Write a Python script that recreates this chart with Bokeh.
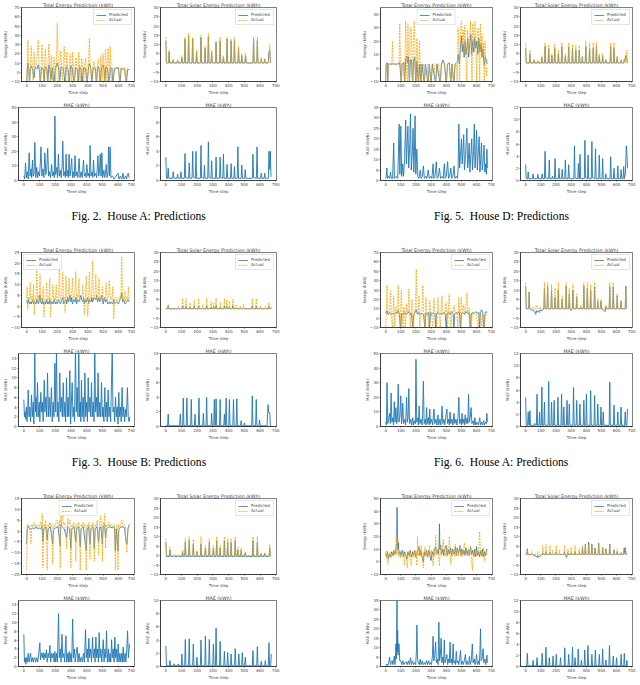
from bokeh.embed import file_html
from bokeh.resources import INLINE
from bokeh.layouts import column, row
from bokeh.models import Label, Legend, LegendItem, Range1d, SingleIntervalTicker
from bokeh.plotting import figure

BLUE = "#1f77b4"
ORANGE = "orange"
FONT = "DejaVu Sans"

# ---- Fig. 2, House A -------------------------------------------------------
g1_tot_act = [(0,-12),(4,5),(8,35),(13,4),(18,-12),(24,6),(30,28),(36,5),(42,-12),(48,22),(54,4),(62,8),(68,14),(75,35),(82,6),(89,-12),(95,8),(100,30),(106,5),(112,-12),(118,10),(122,25),(128,4),(135,-12),(140,12),(145,31),(150,5),(155,-12),(160,18),(166,4),(172,-12),(178,16),(184,6),(190,-12),(195,20),(200,53),(206,8),(212,-12),(218,10),(222,23),(228,5),(234,-12),(240,12),(245,28),(250,6),(256,-12),(262,22),(268,4),(275,-12),(280,10),(285,20),(290,5),(295,-12),(300,22),(306,5),(312,-12),(318,8),(323,16),(328,4),(334,-12),(340,22),(346,5),(352,-12),(360,15),(366,4),(372,-12),(380,8),(385,15),(390,4),(397,-12),(404,10),(410,37),(416,4),(424,-12),(432,5),(440,12),(446,4),(455,-12),(462,6),(468,14),(474,4),(479,-12),(485,18),(490,6),(494,-12),(500,20),(505,6),(509,-12),(515,25),(520,7),(526,-12),(532,26),(538,6),(541,-12),(546,28),(551,4),(558,-12),(565,5),(572,4),(590,5),(600,3),(608,-12),(615,5),(630,4),(640,5),(650,-12),(656,4),(664,3)]
g1_tot_pred = [(0,-12),(4,4),(8,10),(14,3),(18,-12),(24,4),(30,7),(40,2),(48,-6),(55,5),(70,4),(75,8),(82,3),(89,-12),(96,5),(110,3),(114,-12),(120,6),(133,3),(138,-12),(145,8),(153,3),(158,-8),(168,5),(178,-12),(188,4),(200,10),(210,4),(215,-12),(225,6),(240,4),(250,-12),(258,6),(270,3),(278,-12),(288,7),(298,4),(310,-12),(320,5),(333,3),(338,-12),(345,6),(355,4),(362,-12),(372,5),(385,4),(395,-12),(405,6),(412,9),(420,3),(426,-12),(435,5),(450,4),(456,-12),(465,6),(474,4),(480,-12),(490,5),(500,8),(506,3),(510,-12),(518,6),(528,4),(540,-12),(548,5),(558,4),(563,-12),(575,4),(600,5),(610,-12),(618,4),(640,3),(652,-12),(660,3),(670,3)]
g1_tot_mae = [(0,3),(5,1),(11,12),(16,2),(22,6),(28,1),(34,19),(40,3),(46,8),(50,2),(55,14),(60,3),(65,5),(70,26),(76,2),(82,9),(88,2),(94,6),(100,3),(105,12),(109,23),(115,3),(122,8),(128,2),(134,19),(140,4),(146,8),(152,22),(158,3),(164,6),(170,2),(177,11),(183,3),(190,6),(194,2),(198,44),(203,4),(210,9),(215,2),(220,18),(226,3),(232,7),(238,2),(244,10),(248,27),(254,3),(260,6),(265,2),(269,18),(274,3),(280,7),(284,2),(288,18),(294,3),(300,8),(305,15),(310,2),(316,6),(321,2),(326,17),(332,3),(338,6),(344,2),(352,15),(358,2),(365,6),(372,2),(380,14),(386,3),(393,5),(397,2),(401,11),(408,3),(415,5),(418,2),(422,24),(428,3),(435,6),(440,2),(444,14),(450,3),(458,5),(464,2),(472,17),(477,3),(482,6),(487,18),(492,3),(497,19),(502,2),(510,7),(515,2),(520,5),(525,11),(530,2),(536,6),(540,23),(545,3),(550,23),(555,2),(565,3),(575,1),(588,3),(600,5),(606,1),(615,3),(625,1),(632,5),(638,1),(648,3),(655,1),(660,4),(665,5),(670,2)]
g1_sol_act = [(0,14),(4,0),(17,0),(21,7),(25,0),(43,0),(47,2),(51,0),(71,0),(75,2),(79,0),(98,0),(102,4),(106,0),(118,0),(122,14),(126,0),(141,0),(145,16),(149,0),(167,0),(171,14),(175,0),(192,0),(196,7),(200,0),(220,0),(224,15),(228,0),(246,0),(250,9),(254,0),(267,0),(271,16),(275,0),(288,0),(292,7),(296,0),(316,0),(320,12),(324,0),(342,0),(346,14),(350,0),(363,0),(367,4),(371,0),(386,0),(390,14),(394,0),(412,0),(416,13),(420,0),(433,0),(437,14),(441,0),(459,0),(463,9),(467,0),(480,0),(484,5),(488,0),(504,0),(508,5.5),(512,0),(555,0),(559,14),(563,0),(579,0),(583,14),(587,0),(604,0),(608,3),(612,0),(626,0),(630,2.5),(634,0),(656,0),(662,10),(668,0)]
g1_sol_pred = [(0,12),(4,0),(17,0),(21,6),(25,0),(43,0),(47,1.5),(51,0),(71,0),(75,1.5),(79,0),(98,0),(102,3),(106,0),(118,0),(122,13),(126,0),(141,0),(145,15),(149,0),(167,0),(171,13),(175,0),(192,0),(196,6),(200,0),(220,0),(224,14),(228,0),(246,0),(250,8),(254,0),(267,0),(271,14),(275,0),(288,0),(292,6),(296,0),(316,0),(320,11),(324,0),(342,0),(346,12),(350,0),(363,0),(367,3),(371,0),(386,0),(390,13),(394,0),(412,0),(416,12),(420,0),(433,0),(437,12),(441,0),(459,0),(463,8),(467,0),(480,0),(484,4),(488,0),(504,0),(508,4),(512,0),(555,0),(559,13),(563,0),(579,0),(583,12),(587,0),(604,0),(608,2),(612,0),(626,0),(630,2),(634,0),(652,0),(657,6),(662,7),(668,0)]
g1_sol_mae = [(0,3.2),(4,0.3),(11,0.3),(15,1.7),(19,0.3),(43,0.3),(47,1.2),(51,0.3),(71,0.3),(75,0.9),(79,0.3),(92,0.3),(96,1.2),(100,0.3),(118,0.3),(122,3.7),(126,0.4),(145,0.3),(149,2.4),(153,0.3),(167,0.3),(171,4),(175,0.5),(188,0.3),(192,4),(196,0.3),(220,0.3),(224,4.8),(228,0.4),(242,0.3),(246,2.1),(250,0.3),(267,0.3),(271,5.3),(275,0.4),(288,0.3),(292,2.7),(296,0.3),(316,0.3),(320,3.2),(324,0.3),(342,0.3),(346,3.2),(350,0.4),(363,0.3),(367,3.6),(371,0.3),(386,0.3),(390,2.2),(394,0.3),(412,0.3),(416,2.3),(420,0.3),(433,0.3),(437,1.9),(441,0.3),(455,0.3),(459,4.6),(463,0.3),(480,0.3),(484,2.1),(488,0.3),(502,0.3),(506,1.5),(510,0.3),(551,0.3),(555,3.6),(559,0.4),(577,0.3),(581,4.6),(585,0.3),(604,0.3),(608,1),(612,0.3),(626,0.3),(630,1),(634,0.3),(653,0.3),(657,4),(662,1.5),(666,4),(670,0.5)]

# ---- Fig. 5, House D -------------------------------------------------------
g2_tot_act = [(0,-12),(3,3),(10,3),(14,-12),(18,3),(30,3),(40,2),(45,20),(50,3),(60,3),(70,2),(80,3),(88,2),(93,33),(98,3),(103,-12),(108,3),(118,3),(125,-12),(132,35),(137,8),(142,-12),(147,33),(152,10),(157,-12),(162,26),(168,30),(173,8),(178,-12),(183,22),(189,35),(194,6),(199,-12),(206,22),(211,5),(216,-12),(223,20),(228,3),(233,-12),(240,3),(250,3),(255,-12),(262,3),(275,3),(280,-12),(288,3),(300,-12),(308,3),(320,3),(330,-12),(338,3),(350,3),(360,-12),(368,3),(378,3),(388,3),(400,-12),(408,3),(420,3),(430,-12),(438,3),(450,-12),(458,3),(468,3),(472,-12),(478,30),(483,15),(488,-12),(493,25),(500,35),(506,18),(512,28),(518,10),(522,32),(528,15),(535,-12),(540,28),(546,12),(552,20),(560,35),(565,12),(570,-12),(575,33),(580,15),(586,22),(590,35),(596,10),(600,-12),(605,25),(610,30),(616,12),(621,-12),(625,33),(630,14),(636,25),(641,8),(646,18),(650,-12),(655,20),(660,5),(665,-6),(668,0)]
g2_tot_pred = [(0,-12),(3,3),(10,4),(14,-12),(18,3),(30,3),(45,3),(60,3),(80,3),(93,4),(103,-12),(108,3),(120,4),(125,-12),(132,7),(140,9),(145,4),(150,8),(157,-12),(163,6),(170,6),(178,-12),(185,6),(192,8),(199,-12),(206,5),(216,-12),(225,3),(233,-12),(240,3),(255,-12),(262,3),(280,-12),(288,3),(300,-12),(308,3),(330,-12),(338,3),(360,-12),(368,3),(378,6),(388,3),(400,-12),(408,3),(420,4),(430,-12),(438,3),(450,-12),(458,3),(468,4),(475,5),(480,10),(486,3),(493,15),(500,24),(506,12),(512,18),(518,8),(524,20),(530,10),(536,15),(542,22),(548,8),(555,18),(562,25),(568,10),(575,20),(582,12),(588,22),(595,15),(602,20),(608,10),(615,22),(622,12),(630,18),(636,8),(642,14),(650,2),(658,8),(664,6),(670,3)]
g2_tot_mae = [(0,1),(4,2),(8,6),(12,1),(20,2),(26,1),(32,4),(38,1),(46,1),(53,18),(58,1),(70,2),(80,1),(89,27),(94,3),(100,26),(106,2),(112,8),(118,2),(125,10),(132,29),(137,8),(142,18),(147,26),(152,6),(158,15),(164,32),(169,5),(175,12),(181,25),(186,4),(190,14),(194,31),(199,3),(206,15),(212,2),(220,1),(228,5),(234,1),(242,2),(249,7),(255,1),(265,2),(272,1),(281,5),(288,1),(298,2),(305,1),(313,8),(318,1),(326,2),(334,9),(340,1),(348,2),(355,6),(362,1),(372,2),(380,1),(387,8),(393,1),(400,2),(409,9),(415,1),(422,2),(430,6),(436,1),(444,2),(451,7),(457,1),(466,2),(474,1),(478,5),(483,27),(488,6),(494,12),(500,20),(505,8),(510,14),(515,22),(520,5),(527,12),(536,25),(541,6),(546,10),(551,18),(556,4),(562,12),(568,20),(573,5),(580,14),(585,27),(590,6),(595,14),(600,24),(605,5),(610,12),(617,21),(622,4),(627,10),(632,18),(637,5),(643,9),(649,17),(654,4),(660,8),(665,3),(668,15),(671,6)]
g2_sol_act = [(0,11),(4,0),(24,0),(28,7),(32,0),(51,0),(55,2),(59,0),(77,0),(81,1.5),(85,0),(103,0),(107,4),(111,0),(124,0),(128,11),(132,0),(148,0),(152,10),(156,0),(169,0),(173,5),(177,0),(188,0),(192,10),(196,0),(212,0),(216,7),(220,0),(235,0),(239,11),(243,0),(258,0),(262,5),(266,0),(280,0),(284,11),(288,0),(305,0),(309,10),(313,0),(327,0),(331,9.5),(335,0),(350,0),(354,9.5),(358,0),(370,0),(374,4),(378,0),(393,0),(397,12),(401,0),(418,0),(422,11),(426,0),(442,0),(446,11),(450,0),(463,0),(467,11),(471,0),(482,0),(486,5),(490,0),(504,0),(508,5),(512,0),(525,0),(529,2),(533,0),(557,0),(561,11),(565,0),(579,0),(583,11),(587,0),(600,0),(604,4),(608,0),(626,0),(630,2),(634,0),(647,0),(651,2.5),(655,0),(662,0),(668,7),(671,0)]
g2_sol_pred = [(0,8),(4,0),(24,0),(28,5),(32,0),(51,0),(55,1.5),(59,0),(77,0),(81,1),(85,0),(103,0),(107,3),(111,0),(124,0),(128,9),(132,0),(148,0),(152,8),(156,0),(169,0),(173,4),(177,0),(188,0),(192,8),(196,0),(212,0),(216,5),(220,0),(235,0),(239,9),(243,0),(258,0),(262,4),(266,0),(280,0),(284,9),(288,0),(305,0),(309,8),(313,0),(327,0),(331,7),(335,0),(350,0),(354,7),(358,0),(370,0),(374,3),(378,0),(393,0),(397,9),(401,0),(418,0),(422,8),(426,0),(442,0),(446,8),(450,0),(463,0),(467,9),(471,0),(482,0),(486,4),(490,0),(504,0),(508,4),(512,0),(525,0),(529,1.5),(533,0),(557,0),(561,9),(565,0),(579,0),(583,8),(587,0),(600,0),(604,3),(608,0),(626,0),(630,1.5),(634,0),(647,0),(651,2),(655,1),(660,4),(666,3),(671,0)]
g2_sol_mae = [(0,2.6),(4,0.3),(13,0.3),(17,1.4),(21,0.3),(45,0.3),(49,1.1),(53,0.3),(77,0.3),(81,1),(85,0.3),(105,0.3),(109,1.1),(113,0.3),(124,0.3),(128,4.8),(132,0.4),(152,0.3),(156,3.4),(160,0.3),(173,0.3),(177,0.7),(181,0.3),(190,0.3),(194,3.6),(198,0.3),(216,0.3),(220,2),(224,0.3),(237,0.3),(241,1.8),(245,0.3),(258,0.3),(262,3.4),(266,0.3),(280,0.3),(284,2.6),(288,0.3),(318,0.3),(322,5.7),(326,0.4),(344,0.3),(348,2.8),(352,0.3),(355,0.3),(359,4.3),(363,0.3),(387,0.3),(391,6.6),(395,0.5),(408,0.3),(412,4.2),(416,0.3),(433,0.3),(437,6.4),(441,0.5),(457,0.3),(461,5.2),(465,0.3),(482,0.3),(486,4.2),(490,0.3),(504,0.3),(508,3.6),(512,0.3),(525,0.3),(529,1.1),(533,0.3),(557,0.3),(561,3.9),(565,0.3),(579,0.3),(583,2),(587,0.3),(604,0.3),(608,2.4),(612,0.3),(626,0.3),(630,1.8),(634,0.3),(643,0.3),(647,2.3),(651,0.3),(658,1),(664,5.7),(668,4.5),(672,2)]

# ---- Fig. 3, House B -------------------------------------------------------
g3_tot_act = [(0,4),(3,9),(7,-1.5),(12,4),(18,3),(23,11),(28,3),(35,5),(40,2),(45,10),(49,-4),(55,4),(61,3),(66,18),(71,3),(77,5),(82,2),(87,15),(92,3),(98,4),(103,2),(108,9),(113,-5),(118,3),(125,4),(130,11),(135,2),(141,4),(146,3),(151,13),(155,-5),(161,3),(167,4),(172,10),(177,2),(183,4),(188,3),(193,10),(198,2),(204,4),(209,5),(214,20),(219,3),(225,4),(230,6),(236,16),(241,3),(246,4),(251,-3),(257,14),(262,4),(268,3),(273,6),(278,13),(283,3),(289,4),(294,6),(299,13),(304,3),(310,4),(316,6),(321,16),(326,3),(332,5),(337,4),(342,13),(347,2),(355,4),(362,5),(367,10),(372,3),(378,-4),(384,4),(389,14),(394,3),(399,-5),(405,4),(410,16),(415,3),(421,4),(426,6),(431,21),(436,4),(442,3),(447,5),(452,15),(457,3),(463,4),(468,5),(473,13),(478,3),(484,4),(490,3),(495,9),(500,2),(507,4),(514,3),(520,11),(525,2),(531,4),(536,5),(541,12),(546,3),(552,4),(558,3),(563,9),(569,-6),(575,3),(582,4),(590,2),(600,4),(610,3),(616,5),(622,23),(627,3),(633,4),(638,2),(643,7),(648,2),(654,4),(660,3),(665,9),(670,3)]
g3_tot_pred = [(0,3),(5,1),(12,3),(18,1),(23,2),(30,1),(38,3),(45,1),(52,2),(60,1),(66,3),(71,2),(77,1),(82,3),(87,5),(92,2),(98,1),(103,3),(108,1),(115,2),(122,1),(130,3),(135,1),(141,2),(146,1),(151,3),(158,1),(165,2),(172,1),(180,3),(188,1),(193,2),(200,1),(209,3),(214,2),(222,1),(230,3),(236,4),(241,1),(250,2),(257,3),(262,1),(268,4),(273,2),(283,5),(289,2),(294,4),(299,1),(308,3),(316,2),(321,4),(326,1),(332,3),(342,2),(350,4),(355,5),(360,3),(367,2),(372,4),(378,1),(384,3),(389,2),(399,4),(405,1),(410,3),(421,2),(426,4),(431,2),(442,4),(452,3),(457,5),(463,2),(473,4),(478,2),(484,3),(490,5),(495,3),(500,1),(507,4),(514,2),(520,3),(531,1),(541,2),(546,1),(552,2),(563,1),(569,3),(575,1),(590,2),(600,1),(610,3),(616,4),(622,6),(627,2),(633,3),(643,1),(654,2),(665,3),(670,2)]
g3_tot_mae = [(0,5.5),(4,2),(8,3),(11,1.5),(16,4),(20,1),(24,3),(28,7.5),(33,2),(38,4),(43,1),(49,6.5),(54,2),(60,5),(64,0.5),(70,16),(74,3),(78,6),(82,2),(87,9),(92,2),(98,5),(102,1),(108,7),(113,3),(118,5),(123,1),(130,9.5),(134,3),(140,6),(145,2),(151,11),(156,2),(162,6),(168,2),(176,8),(181,1),(187,5),(192,2),(198,13),(203,3),(208,16),(213,2),(218,5),(223,1),(229,11),(234,3),(240,6),(245,2),(251,9),(256,2),(262,5),(266,1),(272,10),(277,2),(282,6),(287,2),(293,11.5),(298,0.5),(303,5),(308,9),(313,2),(318,4),(323,1),(329,16),(334,3),(340,8),(345,2),(350,16),(355,2),(360,5),(363,1),(367,9.5),(372,2),(378,6),(383,1),(389,11),(394,2),(400,5),(405,1),(410,10),(415,3),(421,6),(426,2),(431,9),(436,2),(442,5),(447,1),(452,17),(457,3),(463,6),(468,2),(473,11),(478,2),(484,5),(489,2),(495,9),(500,2),(505,4),(510,1),(516,8),(521,2),(527,5),(531,1),(537,7.5),(542,2),(548,4),(553,1),(563,16),(568,3),(574,4),(579,1),(584,6),(590,2),(595,4),(600,0.5),(605,7),(610,2),(616,4),(620,1),(626,8),(631,2),(637,4),(642,1),(648,3.5),(653,2),(660,8),(665,2),(670,1),(675,2)]
g3_sol_act = [(0,0),(11,0),(15,2.3),(19,0),(75,0),(79,1.5),(83,0),(103,0),(107,5.5),(111,0),(124,0),(128,5.5),(132,0),(150,0),(154,3.2),(158,0),(177,0),(181,4.5),(185,0),(205,0),(209,5.5),(213,0),(231,0),(235,2.3),(239,0),(256,0),(260,5.5),(264,0),(284,0),(288,3.8),(292,0),(301,0),(305,3.2),(309,0),(316,0),(320,5.5),(324,0),(344,0),(348,3.2),(352,0),(369,0),(373,5.5),(377,0),(384,0),(388,4.8),(392,0),(401,0),(405,4.1),(409,0),(423,0),(427,5),(431,0),(444,0),(448,2),(452,0),(470,0),(474,1.5),(478,0),(491,0),(495,2.3),(499,0),(547,0),(551,5.5),(555,0),(572,0),(576,5.5),(580,0),(598,0),(602,1.5),(606,0),(630,0),(634,1.5),(638,0),(651,0),(655,3.2),(659,0),(665,0),(668,1),(671,0)]
g3_sol_pred = [(0,0),(11,0),(15,1.5),(19,0),(75,0),(79,0.5),(83,0),(103,0),(107,1.5),(111,0),(124,0),(128,1.5),(132,0),(150,0),(154,1),(158,0),(177,0),(181,1.5),(185,0),(205,0),(209,1.5),(213,0),(231,0),(235,0.5),(239,0),(256,0),(260,1.5),(264,0),(284,0),(288,1),(292,0),(301,0),(305,1),(309,0),(316,0),(320,1.5),(324,0),(344,0),(348,1),(352,0),(369,0),(373,1.5),(377,0),(384,0),(388,1.5),(392,0),(401,0),(405,1),(409,0),(423,0),(427,1.5),(431,0),(444,0),(448,0.5),(452,0),(470,0),(474,0.5),(478,0),(491,0),(495,0.5),(499,0),(547,0),(551,1.5),(555,0),(572,0),(576,1.5),(580,0),(598,0),(602,0.5),(606,0),(630,0),(634,0.5),(638,0),(651,0),(655,1.5),(659,0),(665,0),(668,0.5),(671,0)]
g3_sol_mae = [(0,0.1),(11,0.1),(15,1.7),(19,0.1),(88,0.1),(92,1.7),(96,0.1),(107,0.1),(111,3.9),(115,0.1),(130,0.1),(134,3.9),(138,0.1),(158,0.1),(162,3.7),(166,0.1),(182,0.1),(186,1.7),(190,0.1),(207,0.1),(211,3.9),(215,0.1),(235,0.1),(239,1.8),(243,0.1),(256,0.1),(260,4),(264,0.1),(288,0.1),(292,1.8),(296,0.1),(305,0.1),(309,3.7),(313,0.1),(316,0.1),(320,3.8),(324,0.1),(342,0.1),(346,3.7),(350,0.1),(369,0.1),(373,1.7),(377,0.1),(380,0.1),(384,3.9),(388,0.1),(401,0.1),(405,3.7),(409,0.1),(427,0.1),(431,3.7),(435,0.1),(448,0.1),(452,3.8),(456,0.1),(476,0.1),(480,0.8),(484,0.1),(497,0.1),(501,0.5),(505,0.1),(547,0.1),(551,4.2),(555,0.1),(572,0.1),(576,3.7),(580,0.1),(593,0.1),(597,0.9),(601,0.1),(645,0.1),(651,3),(656,1.9),(662,1.9),(666,0.1),(671,0.1)]

# ---- Fig. 6, House A -------------------------------------------------------
g4_tot_act = [(0,-12),(4,5),(9,35),(14,5),(20,4),(26,8),(32,29),(37,4),(45,-12),(49,5),(53,24),(57,4),(60,-12),(64,5),(68,12),(72,4),(78,8),(83,35),(88,6),(95,-12),(99,6),(104,30),(109,5),(115,-12),(118,5),(121,12),(125,4),(130,-12),(134,6),(138,15),(143,5),(148,8),(153,31),(158,6),(163,-12),(168,6),(174,20),(177,5),(180,-12),(190,6),(196,10),(202,52),(207,8),(212,6),(216,10),(221,24),(225,-12),(232,6),(240,10),(245,35),(250,6),(256,5),(260,-12),(266,22),(271,5),(278,6),(285,-12),(291,19),(296,5),(303,6),(310,-12),(315,8),(319,21),(324,5),(332,6),(338,-12),(345,22),(350,5),(355,6),(360,-12),(366,8),(372,24),(377,5),(385,6),(392,5),(398,17),(403,5),(408,-12),(414,8),(419,26),(424,5),(430,-12),(438,6),(446,8),(451,14),(456,5),(465,6),(470,5),(475,-12),(479,8),(483,22),(487,6),(490,-12),(495,8),(500,22),(505,6),(510,8),(515,14),(520,6),(528,8),(536,27),(541,6),(546,8),(551,11),(555,-12),(560,5),(565,-12),(572,5),(580,4),(589,5),(598,4),(610,-12),(618,4),(628,4),(635,-12),(640,4),(650,-12),(656,4),(664,3),(670,6)]
g4_tot_pred = [(0,5),(9,8),(15,4),(25,6),(35,4),(45,5),(55,4),(65,6),(75,5),(83,8),(90,4),(100,-12),(105,5),(115,4),(125,6),(135,4),(145,5),(153,7),(160,4),(170,5),(180,-12),(185,4),(195,6),(202,9),(210,4),(220,6),(230,4),(240,5),(250,4),(260,-12),(265,5),(275,4),(284,6),(290,-12),(295,5),(305,4),(315,6),(325,4),(330,-12),(335,5),(345,6),(355,4),(365,5),(375,4),(385,6),(393,4),(400,-12),(405,5),(415,6),(425,4),(435,7),(445,5),(450,-12),(455,4),(465,6),(475,5),(485,7),(495,-12),(500,5),(510,6),(520,4),(530,7),(540,5),(550,6),(560,-12),(565,5),(575,6),(585,5),(595,7),(605,5),(615,6),(620,-12),(625,6),(633,9),(640,6),(650,-12),(655,5),(662,7),(670,6)]
g4_tot_mae = [(0,3),(5,1),(9,30),(14,2),(20,5),(26,9),(31,2),(36,23),(41,3),(47,6),(52,1),(57,17),(62,3),(68,13),(73,2),(78,6),(83,29),(88,3),(94,7),(100,21),(105,2),(109,6),(113,16),(118,2),(126,5),(132,1),(138,20),(143,3),(148,6),(153,26),(158,2),(166,5),(172,1),(179,6),(184,1),(192,4),(196,2),(200,46),(205,3),(212,6),(216,1),(221,14),(226,2),(234,5),(240,1),(244,8),(249,31),(254,2),(262,5),(266,1),(270,13),(275,2),(282,6),(287,1),(291,12),(296,2),(304,5),(310,1),(314,6),(319,12),(324,2),(332,5),(338,1),(345,8),(350,1),(358,5),(364,1),(368,6),(372,14),(377,2),(385,5),(390,1),(396,6),(404,12),(409,2),(415,5),(420,1),(425,10),(430,2),(438,5),(444,1),(451,9),(456,2),(464,5),(470,1),(477,6),(483,20),(488,2),(495,5),(500,1),(504,9),(509,2),(516,5),(520,1),(525,8),(530,2),(538,6),(542,2),(547,22),(552,3),(558,6),(564,13),(569,2),(577,4),(583,1),(589,6),(594,1),(604,3),(612,1),(621,6),(626,1),(634,3),(640,1),(647,4),(652,1),(660,3),(664,2),(668,9),(671,3)]
g4_sol_act = [(0,14),(4,0),(19,0),(23,9),(27,0),(45,0),(49,1),(53,0),(66,0),(70,2),(74,0),(92,0),(96,1),(100,0),(120,0),(124,14),(128,0),(141,0),(145,14),(149,0),(167,0),(171,13),(175,0),(190,0),(194,11),(198,0),(211,0),(215,14),(219,0),(237,0),(241,7),(245,0),(263,0),(267,14),(271,0),(284,0),(288,11),(292,0),(308,0),(312,13),(316,0),(333,0),(337,8),(341,0),(359,0),(363,2),(367,0),(380,0),(384,14),(388,0),(403,0),(407,14),(411,0),(425,0),(429,13),(433,0),(451,0),(455,14),(459,0),(472,0),(476,5.6),(480,0),(493,0),(497,5),(501,0),(525,0),(529,2),(533,0),(551,0),(555,14),(559,0),(574,0),(578,14),(582,0),(600,0),(604,8),(608,0),(625,0),(629,4.4),(633,0),(657,0),(661,11),(665,0)]
g4_sol_pred = [(0,12),(4,0),(19,0),(23,9),(27,0),(45,-1),(49,-0.5),(53,-1),(60,-2),(66,-3),(70,-1),(74,-2),(84,-1),(92,-2),(96,-0.5),(100,-1),(110,-1),(120,0),(124,11),(128,0),(141,0),(145,12),(149,0),(167,0),(171,10),(175,0),(190,0),(194,6),(198,0),(211,0),(215,10),(219,0),(237,0),(241,5),(245,0),(263,0),(267,12),(271,0),(284,0),(288,8),(292,0),(300,-1),(308,0),(312,10),(316,0),(333,0),(337,6),(341,0),(359,0),(363,1),(367,0),(380,0),(384,12),(388,0),(403,0),(407,11),(411,0),(425,0),(429,10),(433,0),(451,0),(455,12),(459,0),(472,0),(476,4),(480,0),(493,0),(497,4),(501,0),(525,-1.5),(529,1),(533,0),(551,0),(555,12),(559,0),(574,0),(578,12),(582,0),(600,0),(604,7),(608,0),(625,0),(629,4),(633,0),(657,0),(661,12),(665,0)]
g4_sol_mae = [(0,4.8),(4,0.2),(13,0.2),(17,2.4),(21,0.2),(24,0.2),(28,2.6),(32,0.2),(56,0.2),(60,0.5),(64,0.2),(71,0.2),(75,5.3),(79,0.2),(88,0.2),(92,2.4),(96,0.2),(103,0.2),(107,6.5),(111,0.2),(120,0.2),(124,4),(128,0.2),(148,0.2),(152,7.4),(156,0.2),(167,0.2),(171,4),(175,0.2),(184,0.2),(188,4.3),(192,0.2),(209,0.2),(213,4.8),(217,0.2),(233,0.2),(237,5.3),(241,0.2),(248,0.2),(252,3.2),(256,0.2),(269,0.2),(273,4.3),(277,0.2),(284,0.2),(288,3.7),(292,0.2),(312,0.2),(316,6.4),(320,0.2),(333,0.2),(337,4.3),(341,0.2),(354,0.2),(358,3.7),(362,0.2),(380,0.2),(384,4.3),(388,0.2),(397,0.2),(401,5.3),(405,0.2),(425,0.2),(429,5.9),(433,0.2),(451,0.2),(455,5.1),(459,0.2),(472,0.2),(476,3.7),(480,0.2),(493,0.2),(497,3.2),(501,0.2),(508,0.2),(512,2.4),(516,0.2),(551,0.2),(555,7.3),(559,0.2),(579,0.2),(583,3.5),(587,0.2),(604,0.2),(608,2.4),(612,0.2),(625,0.2),(629,3.2),(633,0.2),(653,0.2),(657,2.4),(661,0.2),(668,0.2),(672,2.9)]

# ---- third block, left (caption below the window) ----------------------------
g5_tot_act = [(0,-18),(3,3),(8,2),(14,3),(20,1),(28,-6),(33,3),(40,2),(48,4),(55,2),(62,3),(70,2),(78,3),(85,2),(92,4),(98,2),(102,8),(106,-17),(112,3),(118,2),(123,5),(128,2),(134,-18),(140,3),(146,2),(152,4),(158,2),(164,3),(170,-15),(176,3),(184,2),(192,4),(198,5),(204,3),(210,2),(215,5),(219,-17),(223,13),(228,3),(232,6),(236,8),(240,3),(246,4),(252,2),(261,-8),(268,6),(275,3),(283,5),(289,-17),(295,3),(302,2),(308,4),(315,2),(321,-14),(327,3),(333,2),(340,4),(345,2),(350,-18),(356,3),(362,2),(368,4),(375,2),(382,3),(389,-18),(395,3),(402,2),(408,4),(414,-13),(420,3),(427,2),(434,4),(442,-14),(448,3),(455,2),(462,5),(470,-11),(476,3),(484,7),(490,2),(495,-14),(500,4),(506,2),(510,8),(516,-8),(522,3),(530,2),(538,4),(545,2),(552,3),(560,2),(568,3),(574,2),(580,-18),(586,3),(592,2),(597,-18),(602,3),(610,2),(616,4),(622,5),(630,2),(638,3),(645,2),(654,-10),(660,-3),(665,2),(670,3)]
g5_tot_pred = [(0,-6),(3,1),(10,2),(20,1),(30,1),(40,1.5),(50,1),(60,2),(70,1),(80,1.5),(90,1),(100,2),(106,-5),(112,1),(125,2),(134,-4),(140,1),(155,2),(170,-6),(176,1),(190,1.5),(205,2),(219,-7),(223,3),(232,2),(245,1),(261,-3),(268,2),(280,1),(289,-8),(295,1),(310,2),(321,-5),(327,1),(340,2),(350,-7),(356,1),(370,2),(389,-9),(395,1),(405,2),(414,-6),(420,1),(434,2),(442,-8),(448,1),(460,2),(470,-5),(476,1),(485,2),(495,-6),(500,2),(510,3),(516,-3),(522,1),(540,2),(560,1.5),(574,2),(580,-9),(586,1),(597,-9),(602,1),(620,2),(640,1.5),(650,-5),(656,-6),(662,1),(670,3)]
g5_tot_mae = [(0,7.3),(4,1),(9,2),(13,0.5),(17,2),(22,1),(28,3),(33,1),(38,2),(43,3),(48,1),(54,2),(60,1),(65,2),(70,2),(75,1),(82,2),(88,1),(95,3),(102,5.4),(106,1.5),(112,3),(118,2),(123,3.2),(128,1.5),(134,3),(139,2),(144,3.8),(149,1),(155,3),(160,2),(166,4.8),(171,1),(177,3),(182,2),(188,3),(193,1),(198,3.4),(203,1),(209,3),(214,1),(221,12),(226,2),(232,4),(237,1),(243,7.3),(248,2),(255,3),(260,1),(268,7),(273,1),(280,3),(284,1),(289,3.4),(294,1),(300,3),(305,1),(311,10.8),(316,2),(322,4),(327,1),(334,3),(340,4.4),(345,1),(352,3),(358,1),(363,2),(367,2.1),(372,1),(380,3),(386,1),(393,8.4),(398,2),(404,4),(409,1),(414,6.4),(419,2),(426,4),(431,1),(438,6.7),(443,2),(450,4),(454,1),(459,6.7),(464,2),(470,4),(475,1),(480,7.7),(485,2),(491,4),(496,1),(501,3),(506,6.1),(511,1),(517,4),(522,2),(527,8.1),(532,1),(538,4),(543,1),(549,3),(554,1),(559,6.1),(564,2),(570,4),(575,1),(580,6.7),(585,2),(590,4),(595,1),(601,5.1),(606,1),(612,3),(618,1),(624,3),(628,1),(633,4.4),(638,1),(645,3),(650,1),(656,4),(661,8.1),(666,2),(670,4),(674,5.1)]
g5_sol_act = [(0,9),(4,0),(22,0),(26,4.4),(30,0),(49,0),(53,0.4),(57,0),(75,0),(79,0.4),(83,0),(103,0),(107,2.7),(111,0),(120,0),(124,9),(128,0),(145,0),(149,10),(153,0),(171,0),(175,8.5),(179,0),(194,0),(198,2.7),(202,0),(220,0),(224,10),(228,0),(248,0),(252,5.3),(256,0),(273,0),(277,9),(281,0),(299,0),(303,5.3),(307,0),(320,0),(324,10),(328,0),(342,0),(346,5.3),(350,0),(369,0),(373,10),(377,0),(390,0),(394,9),(398,0),(412,0),(416,9),(420,0),(438,0),(442,10),(446,0),(455,0),(459,4.4),(463,0),(476,0),(480,3.9),(484,0),(502,0),(506,2.1),(510,0),(551,0),(555,10),(559,0),(579,0),(583,10),(587,0),(604,0),(608,1.4),(612,0),(626,0),(630,1.4),(634,0),(658,0),(662,5.7),(666,0)]
g5_sol_pred = [(0,7),(4,-0.5),(22,-0.5),(26,3),(30,-0.5),(49,-0.5),(53,0),(57,-0.5),(75,-0.5),(79,0),(83,-0.5),(103,-0.5),(107,2),(111,-0.5),(120,-0.5),(124,7),(128,-0.5),(145,-0.5),(149,8),(153,-0.5),(171,-0.5),(175,6),(179,-0.5),(194,-0.5),(198,2),(202,-0.5),(220,-0.5),(224,6),(228,-0.5),(248,-0.5),(252,4),(256,-0.5),(273,-0.5),(277,7),(281,-0.5),(299,-0.5),(303,4),(307,-0.5),(320,-0.5),(324,8),(328,-0.5),(342,-0.5),(346,4),(350,-0.5),(369,-0.5),(373,8),(377,-0.5),(390,-0.5),(394,7),(398,-0.5),(412,-0.5),(416,7),(420,-0.5),(438,-0.5),(442,8),(446,-0.5),(455,-0.5),(459,3),(463,-0.5),(476,-0.5),(480,3),(484,-0.5),(502,-0.5),(506,1.5),(510,-0.5),(551,-0.5),(555,8),(559,-0.5),(579,-0.5),(583,7),(587,-0.5),(604,-0.5),(608,1),(612,-0.5),(626,-0.5),(630,1),(634,-0.5),(658,-0.5),(662,4),(666,-0.5)]
g5_sol_mae = [(0,3.1),(4,0.1),(22,0.1),(26,0.9),(30,0.1),(49,0.1),(53,0.4),(57,0.1),(75,0.1),(79,0.4),(83,0.1),(98,0.1),(102,1.9),(106,0.1),(120,0.1),(124,4.1),(128,0.1),(145,0.1),(149,4.2),(153,0.1),(171,0.1),(175,3.4),(179,0.1),(194,0.1),(198,1.4),(202,0.1),(220,0.1),(224,4),(228,0.1),(248,0.1),(252,4.6),(256,0.1),(273,0.1),(277,4.1),(281,0.1),(299,0.1),(303,3.4),(307,0.1),(316,0.1),(320,5.8),(324,0.1),(342,0.1),(346,3.8),(350,0.1),(369,0.1),(373,2.3),(377,0.1),(390,0.1),(394,2.1),(398,0.1),(412,0.1),(416,1.9),(420,0.1),(438,0.1),(442,2.7),(446,0.1),(461,0.1),(465,1.9),(469,0.1),(483,0.1),(487,2.1),(491,0.1),(502,0.1),(506,1.4),(510,0.1),(551,0.1),(555,2.4),(559,0.1),(579,0.1),(583,3),(587,0.1),(604,0.1),(608,0.8),(612,0.1),(630,0.1),(634,0.9),(638,0.1),(653,0.1),(657,3.6),(661,0.1),(668,0.1),(672,1.9)]

# ---- third block, right (caption below the window) ---------------------------
g6_tot_act = [(0,8),(5,3),(10,9),(15,-2),(22,6),(30,8),(36,3),(44,7),(52,4),(60,9),(66,5),(70,20),(74,6),(78,13),(84,4),(92,8),(98,3),(105,9),(112,4),(118,8),(124,-3),(130,7),(137,4),(143,-5),(150,8),(158,4),(163,9),(168,-3),(175,6),(182,4),(190,8),(196,3),(202,8),(206,-3),(210,20),(216,5),(222,9),(228,4),(235,13),(241,5),(249,-5),(255,8),(260,12),(266,4),(272,8),(278,3),(285,9),(290,13),(296,5),(302,9),(308,4),(313,-3),(320,10),(326,4),(330,21),(336,6),(342,10),(348,5),(355,-3),(360,12),(366,5),(372,9),(380,18),(386,5),(392,9),(398,4),(404,12),(410,5),(416,9),(420,20),(426,5),(430,-2),(436,10),(442,5),(448,9),(455,4),(460,14),(466,5),(472,10),(478,4),(484,9),(490,13),(496,5),(502,9),(508,4),(514,10),(520,15),(526,5),(533,9),(540,4),(547,10),(554,5),(560,12),(566,5),(572,-7),(578,8),(585,4),(592,10),(598,5),(605,9),(612,5),(620,24),(626,5),(633,9),(640,4),(646,11),(652,0),(658,6),(664,9),(670,5)]
g6_tot_pred = [(0,6),(6,4),(12,8),(18,2),(25,6),(32,4),(40,8),(48,5),(55,9),(62,6),(68,10),(72,15),(75,43),(78,24),(81,10),(84,15),(88,6),(95,8),(102,5),(110,9),(118,4),(126,8),(133,5),(140,2),(147,8),(155,5),(162,9),(170,4),(178,8),(185,5),(192,9),(200,4),(208,7),(214,10),(220,12),(226,5),(232,9),(240,4),(248,0),(255,8),(262,5),(270,9),(278,4),(285,9),(292,5),(300,1),(307,8),(315,5),(322,10),(330,12),(336,6),(342,9),(348,6),(352,12),(355,30),(358,10),(363,13),(370,6),(377,10),(384,5),(392,11),(400,13),(406,5),(413,10),(420,6),(428,11),(435,5),(442,10),(450,6),(456,8),(460,12),(466,5),(473,11),(480,6),(486,9),(490,13),(496,5),(503,10),(510,6),(517,9),(524,5),(530,11),(537,6),(544,9),(551,5),(560,12),(566,6),(573,9),(580,5),(586,10),(592,4),(600,12),(606,5),(613,8),(620,4),(627,9),(633,5),(640,10),(646,4),(653,8),(660,5),(666,10),(670,9)]
g6_tot_mae = [(0,1),(5,0.5),(9,1.3),(14,0.5),(20,2),(26,5),(31,1),(37,2),(43,3.1),(48,1),(53,3),(57,5.5),(62,1),(66,8),(68,12),(71,4),(73,20),(75,36),(77,8),(79,19),(82,6),(85,12),(89,12),(93,3),(100,3.1),(106,1),(114,3),(120,1),(128,2),(136,2.4),(142,1),(150,3),(157,1),(164,4.7),(170,1),(178,3),(184,1),(192,2),(198,1),(203,8),(206,22),(210,4),(216,2),(222,1),(228,3.9),(234,1),(242,3),(248,1),(256,2),(262,1),(270,3.1),(276,1),(284,3),(290,1),(296,2),(302,1),(308,5),(313,16),(318,3),(324,6),(330,13),(335,2),(341,4),(346,1),(351,23.5),(356,3),(361,6),(366,15),(371,2),(377,5),(382,1),(387,14),(392,2),(398,4),(404,6.3),(409,1),(415,4),(420,2),(425,13),(430,2),(436,4),(440,1),(445,12),(450,2),(456,3),(461,1),(466,8),(471,2),(477,3),(482,1),(488,4),(494,8.6),(499,1),(506,3),(512,1),(519,3),(526,6.3),(531,1),(538,3),(544,1),(549,2),(553,5.5),(558,1),(565,3),(572,12),(577,2),(584,4),(590,1),(595,3),(600,6.3),(605,1),(612,3),(618,1),(622,8),(626,20),(630,3),(636,4),(643,9.4),(648,2),(655,4),(660,1),(665,3),(668,6),(671,2)]
g6_sol_act = [(0,0.5),(7,0.5),(11,3.6),(15,0.5),(35,0.5),(39,2.1),(43,0.5),(77,0.5),(81,2.1),(85,0.5),(109,0.5),(113,5.3),(117,0.5),(130,0.5),(134,5.7),(138,0.5),(156,0.5),(160,5.3),(164,0.5),(173,0.5),(177,2.7),(181,0.5),(198,0.5),(202,5.3),(206,0.5),(220,0.5),(224,2.7),(228,0.5),(252,0.5),(256,5.3),(260,0.5),(275,0.5),(279,3.6),(283,0.5),(297,0.5),(301,4.4),(305,0.5),(322,0.5),(326,5.3),(330,0.5),(350,0.5),(354,3.6),(358,0.5),(371,0.5),(375,5.3),(379,0.5),(390,0.5),(394,5.7),(398,0.5),(412,0.5),(416,5.7),(420,0.5),(433,0.5),(437,5.3),(441,0.5),(454,0.5),(458,3.6),(462,0.5),(478,0.5),(482,5.7),(486,0.5),(504,0.5),(508,4.4),(512,0.5),(525,0.5),(529,3.6),(533,0.5),(551,0.5),(555,5.7),(559,0.5),(579,0.5),(583,2.7),(587,0.5),(600,0.5),(604,3.6),(608,0.5),(654,0.5),(658,4.6),(662,0.5),(670,0.5)]
g6_sol_pred = [(0,0.5),(7,0.5),(11,3.5),(15,0.5),(35,0.5),(39,1),(43,0.5),(70,-0.5),(77,-1),(81,0),(85,-1),(92,-0.5),(109,0.5),(113,1.5),(117,0.5),(130,0.5),(134,2),(138,0.5),(156,0.5),(160,1.5),(164,0.5),(173,0.5),(177,1),(181,0.5),(198,0.5),(202,2),(206,0.5),(220,0.5),(224,1),(228,0.5),(252,0.5),(256,2),(260,0.5),(270,-1),(275,0.5),(279,1.5),(283,0.5),(297,0.5),(301,1.5),(305,0.5),(322,0.5),(326,2),(330,0.5),(350,0.5),(354,1.5),(358,0.5),(371,0.5),(375,4),(379,0.5),(390,0.5),(394,6),(398,0.5),(412,0.5),(416,7),(420,0.5),(433,0.5),(437,6),(441,0.5),(454,0.5),(458,4),(462,0.5),(478,0.5),(482,6.5),(486,0.5),(504,0.5),(508,4),(512,0.5),(525,0.5),(529,3.5),(533,0.5),(551,0.5),(555,6),(559,0.5),(579,0.5),(583,3),(587,0.5),(600,0.5),(604,2),(608,0.5),(626,0.5),(630,1.5),(634,0.5),(646,0.5),(650,4),(655,1),(658,4),(662,0.5),(670,1)]
g6_sol_mae = [(0,0.1),(7,0.1),(11,2.4),(15,0.1),(45,0.1),(49,1.1),(53,0.1),(71,0.1),(75,1.6),(79,0.1),(105,0.1),(109,2.4),(113,0.1),(130,0.1),(134,3.5),(138,0.1),(152,0.1),(156,1.6),(160,0.1),(177,0.1),(181,1.9),(185,0.1),(198,0.1),(202,2.2),(206,0.1),(226,0.1),(230,1.6),(234,0.1),(254,0.1),(258,3.4),(262,0.1),(280,0.1),(284,2.2),(288,0.1),(305,0.1),(309,3.5),(313,0.1),(322,0.1),(326,1.6),(330,0.1),(343,0.1),(347,3.2),(351,0.1),(364,0.1),(368,1.1),(372,0.1),(386,0.1),(390,3),(394,0.1),(407,0.1),(411,3.8),(415,0.1),(433,0.1),(437,2.2),(441,0.1),(456,0.1),(460,3),(464,0.1),(482,0.1),(486,2.2),(490,0.1),(504,0.1),(508,3.2),(512,0.1),(525,0.1),(529,1.2),(533,0.1),(549,0.1),(553,3.8),(557,0.1),(574,0.1),(578,1.9),(582,0.1),(596,0.1),(600,1.6),(604,0.1),(626,0.1),(630,2.2),(634,0.1),(647,0.1),(651,2.4),(655,0.1),(664,0.1),(668,1.1),(671,0.1)]

captions = ["Fig. 2.\u00a0 House A: Predictions", "Fig. 5.\u00a0 House D: Predictions",
            "Fig. 3.\u00a0 House B: Predictions", "Fig. 6.\u00a0 House A: Predictions"]

# column geometry: (width, min_border_left, min_border_right)
COLS = [(135, 15, 1), (155, 25, 14), (205, 90, 3), (144, 25, 7)]
PAGE_W = sum(c[0] for c in COLS)


def xy(pairs):
    return [p[0] for p in pairs], [p[1] for p in pairs]


def base(col, height, top, bottom, title, ylabel, ylim, ystep):
    w, left, right = COLS[col]
    p = figure(width=w, height=height, output_backend="svg", toolbar_location=None,
               x_range=Range1d(-34, 705), y_range=Range1d(*ylim),
               min_border_left=left, min_border_right=right,
               min_border_top=top, min_border_bottom=bottom,
               background_fill_color="white", border_fill_color="white")
    p.title.text = title
    p.title.align = "center"
    p.title.text_font = FONT
    p.title.text_font_size = "4.75px"
    p.title.text_font_style = "normal"
    p.title.standoff = 0
    p.xgrid.visible = False
    p.ygrid.visible = False
    p.outline_line_color = "black"
    p.outline_line_width = 0.5
    p.xaxis.ticker = SingleIntervalTicker(interval=100, num_minor_ticks=0)
    p.yaxis.ticker = SingleIntervalTicker(interval=ystep, num_minor_ticks=0)
    p.xaxis.axis_label = "Time step"
    p.yaxis.axis_label = ylabel
    for ax in (p.xaxis[0], p.yaxis[0]):
        ax.major_label_text_font = FONT
        ax.major_label_text_font_size = "4px"
        ax.axis_label_text_font = FONT
        ax.axis_label_text_font_size = "4px"
        ax.axis_label_text_font_style = "normal"
        ax.major_tick_out = 1
        ax.major_tick_in = 0
        ax.major_label_standoff = 1
        ax.axis_label_standoff = 0
        ax.axis_line_width = 0.5
        ax.major_tick_line_width = 0.5
    return p


def energy_panel(col, geom, title, ylim, ystep, pred, act, loc):
    p = base(col, *geom, title, "Energy (kWh)", ylim, ystep)
    r1 = p.line(*xy(pred), line_color=BLUE, line_width=0.8)
    r2 = p.line(*xy(act), line_color=ORANGE, line_width=0.8, line_dash="2 1")
    legend = Legend(items=[LegendItem(label="Predicted", renderers=[r1]),
                           LegendItem(label="Actual", renderers=[r2])], location=loc)
    legend.label_text_font = FONT
    legend.label_text_font_size = "4px"
    legend.glyph_width = 10
    legend.glyph_height = 4
    legend.label_height = 4
    legend.label_standoff = 3
    legend.spacing = 0
    legend.padding = 2
    legend.margin = 2
    legend.border_line_color = "#cccccc"
    legend.border_line_width = 0.5
    legend.background_fill_alpha = 0.8
    p.add_layout(legend)
    return p


def mae_panel(col, geom, ylim, ystep, mae):
    p = base(col, *geom, "MAE (kWh)", "MAE (kWh)", ylim, ystep)
    p.line(*xy(mae), line_color=BLUE, line_width=0.9)
    return p


def caption_strip(left_text, right_text, height, from_top):
    p = figure(width=PAGE_W, height=height, output_backend="svg", toolbar_location=None,
               x_range=Range1d(0, PAGE_W), y_range=Range1d(0, height), min_border=0,
               x_axis_location=None, y_axis_location=None, outline_line_color=None)
    p.xgrid.visible = False
    p.ygrid.visible = False
    for x, txt in ((138.5, left_text), (501, right_text)):
        p.add_layout(Label(x=x, y=height - from_top, text=txt, text_align="center",
                           text_baseline="middle", text_font="Liberation Serif",
                           text_font_size="11.6px", text_color="black"))
    return p


TOT = "Total Energy Prediction (kWh)"
SOL = "Total Solar Energy Prediction (kWh)"

# (height, min_border_top, min_border_bottom) for each band of panels
R1 = (99, 5, 18)
R2 = (99, 8, 18)
R3 = (101, 8, 18)
R4 = (99, 8, 18)
R5 = (102, 8, 18)
R6 = (92, 8, 18)

row1 = row(energy_panel(0, R1, TOT, (-10, 70), 10, g1_tot_pred, g1_tot_act, "top_right"),
           energy_panel(1, R1, SOL, (-10, 30), 5, g1_sol_pred, g1_sol_act, "top_right"),
           energy_panel(2, R1, TOT, (-10, 45), 10, g2_tot_pred, g2_tot_act, "top_center"),
           energy_panel(3, R1, SOL, (-10, 30), 5, g2_sol_pred, g2_sol_act, "top_right"))
row2 = row(mae_panel(0, R2, (0, 50), 10, g1_tot_mae),
           mae_panel(1, R2, (0, 10), 2, g1_sol_mae),
           mae_panel(2, R2, (0, 35), 5, g2_tot_mae),
           mae_panel(3, R2, (0, 12), 2, g2_sol_mae))
cap1 = caption_strip(captions[0], captions[1], 46, 18)
row3 = row(energy_panel(0, R3, TOT, (-10, 25), 5, g3_tot_pred, g3_tot_act, "top_left"),
           energy_panel(1, R3, SOL, (-10, 30), 5, g3_sol_pred, g3_sol_act, "top_right"),
           energy_panel(2, R3, TOT, (-10, 70), 10, g4_tot_pred, g4_tot_act, "top_right"),
           energy_panel(3, R3, SOL, (-10, 30), 5, g4_sol_pred, g4_sol_act, "top_right"))
row4 = row(mae_panel(0, R4, (0, 15), 2, g3_tot_mae),
           mae_panel(1, R4, (0, 10), 2, g3_sol_mae),
           mae_panel(2, R4, (0, 50), 10, g4_tot_mae),
           mae_panel(3, R4, (0, 12), 2, g4_sol_mae))
cap2 = caption_strip(captions[2], captions[3], 46, 18)
row5 = row(energy_panel(0, R5, TOT, (-20, 15), 5, g5_tot_pred, g5_tot_act, "top_center"),
           energy_panel(1, R5, SOL, (-10, 30), 5, g5_sol_pred, g5_sol_act, "top_right"),
           energy_panel(2, R5, TOT, (-10, 50), 10, g6_tot_pred, g6_tot_act, "top_right"),
           energy_panel(3, R5, SOL, (-10, 30), 5, g6_sol_pred, g6_sol_act, "top_right"))
row6 = row(mae_panel(0, R6, (0, 15), 2, g5_tot_mae),
           mae_panel(1, R6, (0, 10), 2, g5_sol_mae),
           mae_panel(2, R6, (0, 35), 5, g6_tot_mae),
           mae_panel(3, R6, (0, 12), 2, g6_sol_mae))

page = column(row1, row2, cap1, row3, row4, cap2, row5, row6)

open("out.html", "w").write(file_html(page, INLINE, "House predictions"))
